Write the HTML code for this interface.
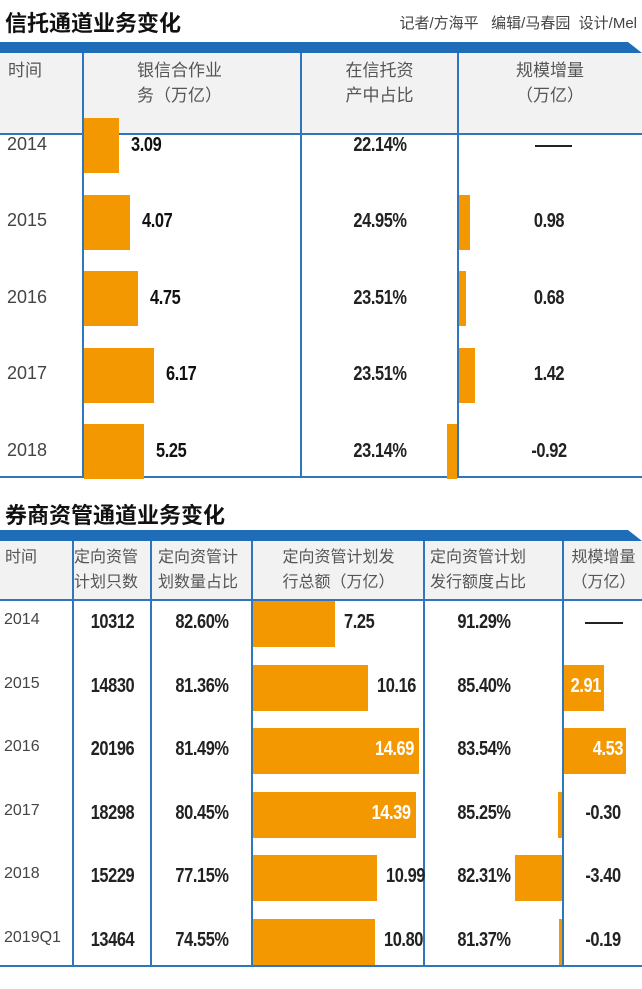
<!DOCTYPE html>
<html><head><meta charset="utf-8">
<style>
body{margin:0;width:642px;height:989px;background:#fff;position:relative;overflow:hidden;font-family:"Liberation Sans","Noto Sans CJK SC",sans-serif;}
.abs{position:absolute;}
.title{font-weight:bold;font-size:22px;color:#111;}
.hdr{background:#f2f2f2;}
.vl{background:#2f76c0;width:2px;}
.hl{background:#2f76c0;height:2px;}
.ht{font-size:16px;color:#555;line-height:25px;text-align:center;}
.yr{font-size:18px;color:#444;}
.num{font-family:"Liberation Sans Narrow","Liberation Sans",sans-serif;font-weight:bold;font-size:20px;color:#222;white-space:nowrap;letter-spacing:-0.5px;transform:scaleX(0.82);}
.bar{background:#f39800;}
</style></head><body>
<div class="abs title" style="left:5px;top:6px;">信托通道业务变化</div>
<div class="abs" style="right:5px;top:12px;font-size:15px;color:#444;">记者/方海平&nbsp;&nbsp;&nbsp;编辑/马春园&nbsp;&nbsp;设计/Mel</div>
<svg class="abs" style="left:0;top:42px" width="642" height="11"><polygon points="0,0 628,0 642,11 0,11" fill="#1f6db8"/></svg>
<div class="abs hdr" style="left:0;top:53px;width:642px;height:80px;"></div>
<div class="abs ht" style="left:8px;top:58px;text-align:left;font-size:17px;">时间</div>
<div class="abs ht" style="left:137px;top:58px;text-align:left;font-size:17px;">银信合作业<br>务（万亿）</div>
<div class="abs ht" style="left:301px;width:157px;top:58px;font-size:17px;">在信托资<br>产中占比</div>
<div class="abs ht" style="left:458px;width:184px;top:58px;font-size:17px;">规模增量<br>（万亿）</div>
<div class="abs hl" style="left:0;top:133px;width:642px;"></div>
<div class="abs hl" style="left:0;top:476px;width:642px;"></div>
<div class="abs vl" style="left:82px;top:53px;height:423px;"></div>
<div class="abs vl" style="left:300px;top:53px;height:423px;"></div>
<div class="abs vl" style="left:457px;top:53px;height:423px;"></div>

<div class="abs title" style="left:5px;top:498px;">券商资管通道业务变化</div>
<svg class="abs" style="left:0;top:530px" width="642" height="11"><polygon points="0,0 628,0 642,11 0,11" fill="#1f6db8"/></svg>
<div class="abs hdr" style="left:0;top:541px;width:642px;height:58px;"></div>
<div class="abs ht" style="left:5px;top:545px;text-align:left;">时间</div>
<div class="abs ht" style="left:74px;top:545px;text-align:left;">定向资管<br>计划只数</div>
<div class="abs ht" style="left:158px;top:545px;text-align:left;">定向资管计<br>划数量占比</div>
<div class="abs ht" style="left:253px;width:171px;top:545px;">定向资管计划发<br>行总额（万亿）</div>
<div class="abs ht" style="left:430px;top:545px;text-align:left;">定向资管计划<br>发行额度占比</div>
<div class="abs ht" style="left:565px;width:77px;top:545px;">规模增量<br>（万亿）</div>
<div class="abs hl" style="left:0;top:599px;width:642px;"></div>
<div class="abs hl" style="left:0;top:965px;width:642px;"></div>
<div class="abs vl" style="left:72px;top:541px;height:424px;"></div>
<div class="abs vl" style="left:150px;top:541px;height:424px;"></div>
<div class="abs vl" style="left:251px;top:541px;height:424px;"></div>
<div class="abs vl" style="left:423px;top:541px;height:424px;"></div>
<div class="abs vl" style="left:562px;top:541px;height:424px;"></div>

<script>
const t1Years=["2014","2015","2016","2017","2018"];
const t1Amount=[3.09,4.07,4.75,6.17,5.25];
const t1Share=["22.14%","24.95%","23.51%","23.51%","23.14%"];
const t1Change=[null,0.98,0.68,1.42,-0.92];
const t2Years=["2014","2015","2016","2017","2018","2019Q1"];
const t2Count=["10312","14830","20196","18298","15229","13464"];
const t2CountShare=["82.60%","81.36%","81.49%","80.45%","77.15%","74.55%"];
const t2Amount=[7.25,10.16,14.69,14.39,10.99,10.80];
const t2AmountShare=["91.29%","85.40%","83.54%","85.25%","82.31%","81.37%"];
const t2Change=[null,2.91,4.53,-0.30,-3.40,-0.19];

function el(cls,style,text){const d=document.createElement('div');d.className='abs '+cls;d.style.cssText=style;if(text!==undefined)d.textContent=text;document.body.appendChild(d);return d;}
function fmt(v){return v.toFixed(2);}
// table 1
const t1Top=118,t1Step=76.5,t1H=55;
const x1=v=>v*11.35, x1c=v=>v*11;
t1Years.forEach((y,i)=>{
  const top=t1Top+i*t1Step, mid=top+t1H/2;
  let d=el('yr',`left:7px;top:${mid-12}px;`,y);
  
  
  const w=x1(t1Amount[i]);
  d=el('bar',`left:84px;top:${top}px;width:${w}px;height:${t1H}px;`);
  
  
  d=el('num',`left:${84+w+12}px;top:${mid-12}px;color:#111;transform-origin:left center;`,fmt(t1Amount[i]));
  
  
  d=el('num',`left:302px;width:156px;text-align:center;top:${mid-12}px;`,t1Share[i]);
  
  
  const c=t1Change[i];
  if(c===null){
    d=el('',`left:535px;top:${mid-1}px;width:37px;height:2px;background:#222;`);
    
    
  }else{
    const cw=x1c(Math.abs(c));
    d=el('bar',`left:${c>=0?459:457-cw}px;top:${top}px;width:${cw}px;height:${t1H}px;`);
    
    
    d=el('num',`left:459px;width:180px;text-align:center;top:${mid-12}px;`,fmt(c));
    
    
  }
});
// table 2
const t2Top=601,t2Step=63.6,t2H=46;
const x2=v=>v*11.3, x2c=v=>v*13.7;
t2Years.forEach((y,i)=>{
  const top=t2Top+i*t2Step, mid=top+t2H/2;
  let d=el('yr',`left:4px;top:${mid-13}px;font-size:16px;`,y);
  
  
  d=el('num',`left:74px;width:77px;text-align:center;top:${mid-13}px;`,t2Count[i]);
  
  
  d=el('num',`left:152px;width:100px;text-align:center;top:${mid-13}px;`,t2CountShare[i]);
  
  
  const w=x2(t2Amount[i]);
  d=el('bar',`left:253px;top:${top}px;width:${w}px;height:${t2H}px;`);
  
  
  if(w<130){
    d=el('num',`left:${253+w+9}px;top:${mid-13}px;transform-origin:left center;`,fmt(t2Amount[i]));
  }else{
    d=el('num',`left:253px;width:${w-5}px;text-align:right;top:${mid-13}px;color:#fff;transform-origin:right center;`,fmt(t2Amount[i]));
  }
  
  
  d=el('num',`left:425px;width:118px;text-align:center;top:${mid-13}px;`,t2AmountShare[i]);
  
  
  const c=t2Change[i];
  if(c===null){
    d=el('',`left:585px;top:${mid-2}px;width:38px;height:2px;background:#222;`);
    
    
  }else{
    const cw=x2c(Math.abs(c));
    d=el('bar',`left:${c>=0?564:562-cw}px;top:${top}px;width:${cw}px;height:${t2H}px;`);
    
    
    if(c>=0){
      d=el('num',`left:564px;width:${cw-3}px;text-align:right;top:${mid-13}px;color:#fff;transform-origin:right center;`,fmt(c));
    }else{
      d=el('num',`left:564px;width:78px;text-align:center;top:${mid-13}px;`,fmt(c));
    }
    
    
  }
});
</script>
</body></html>
